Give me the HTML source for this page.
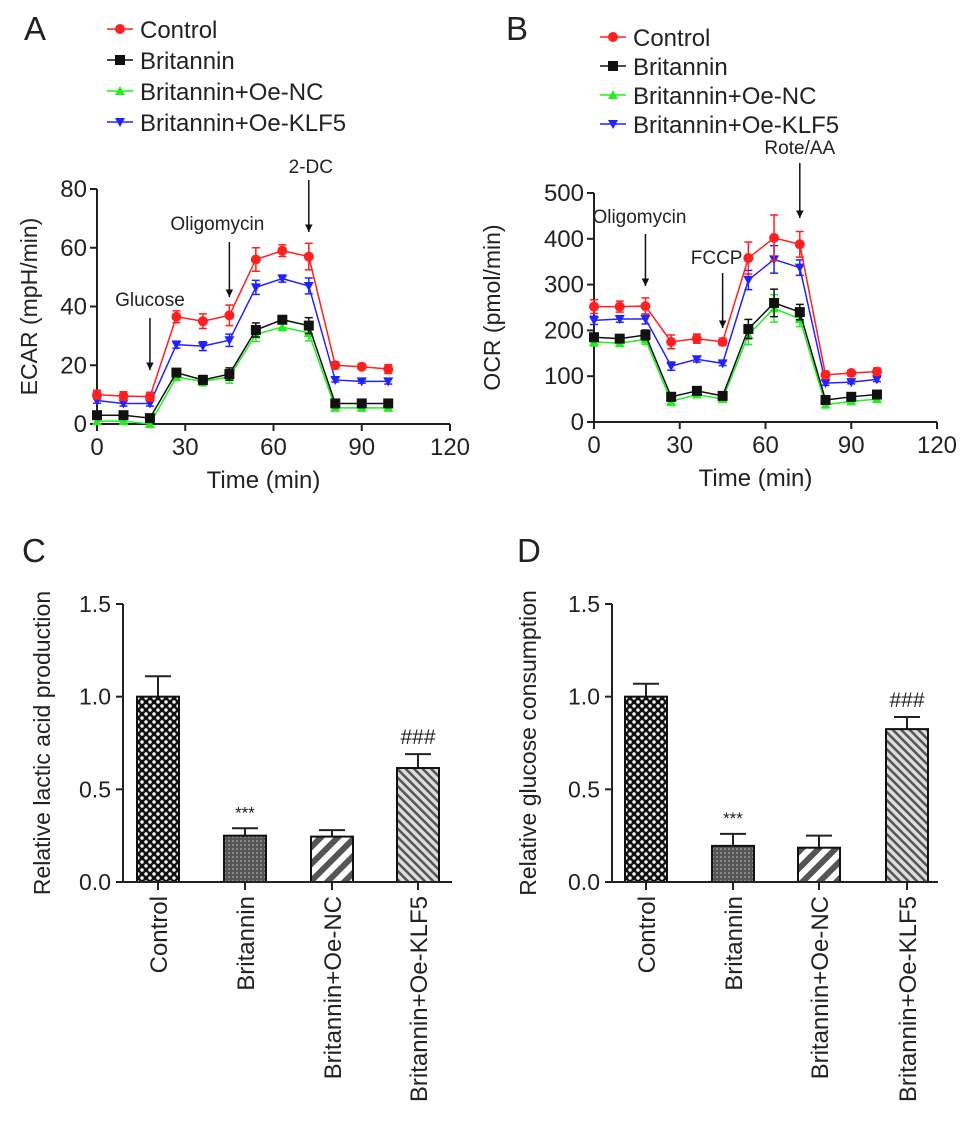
<!DOCTYPE html>
<html><head><meta charset="utf-8"><style>
body{margin:0;background:#fff;}
svg text{font-family:"Liberation Sans",Arial,sans-serif;fill:#222;}
</style></head><body>
<svg id="fig" width="969" height="1125" viewBox="0 0 969 1125" xmlns="http://www.w3.org/2000/svg">
<defs>
<pattern id="pCheck" width="8" height="8" patternUnits="userSpaceOnUse"><rect width="8" height="8" fill="#111"/><circle cx="2" cy="2" r="1.7" fill="#fff"/><circle cx="6" cy="6" r="1.7" fill="#fff"/></pattern>
<pattern id="pDark" width="4" height="4" patternUnits="userSpaceOnUse"><rect width="4" height="4" fill="#555"/><rect width="2" height="2" fill="#888"/></pattern>
<pattern id="pWide" width="12" height="12" patternUnits="userSpaceOnUse" patternTransform="rotate(45)"><rect width="12" height="12" fill="#fff"/><rect width="6" height="12" fill="#555"/></pattern>
<pattern id="pFine" width="6" height="6" patternUnits="userSpaceOnUse" patternTransform="rotate(-45)"><rect width="6" height="6" fill="#ddd"/><rect width="2.5" height="6" fill="#555"/></pattern>
<marker id="arr" viewBox="0 0 10 10" refX="10" refY="5" markerWidth="5" markerHeight="5" orient="auto"><path d="M0,0 L10,5 L0,10z" fill="#111"/></marker>
</defs>
<g id="root"></g>
</svg>
<script>
const times=[0,9,18,27,36,45,54,63,72,81,90,99];
const seriesNames=["Control","Britannin","Britannin+Oe-NC","Britannin+Oe-KLF5"];
const ecarControl=[10,9.5,9.3,36.5,35,37,56,59,57,20,19.5,18.7];
const ecarBrit=[3,3,2,17.5,15,17,32,35.5,33.5,7,7,7];
const ecarNC=[1,1,0,16,14.5,16,30.5,33,31,5.5,5.5,5.5];
const ecarKLF5=[8,7,7,27,26.5,28.5,46.5,49.5,47,15,14.5,14.5];
const ecarErr=[1.5,1.5,1.5,2,2.5,3.5,4,2,4.5,1.2,1,1.5];
const ocrControl=[252,252,253,175,182,175,358,402,388,103,107,110];
const ocrBrit=[185,182,190,55,68,57,203,260,240,48,55,60];
const ocrNC=[175,172,180,45,60,50,190,248,225,38,45,50];
const ocrKLF5=[222,225,225,122,137,128,310,355,337,85,87,93];
const ocrErr=[15,12,18,15,10,8,35,50,28,8,6,8];
const xTicks=[0,30,60,90,120];
const ecarTicks=[0,20,40,60,80];
const ocrTicks=[0,100,200,300,400,500];
const barCats=["Control","Britannin","Britannin+Oe-NC","Britannin+Oe-KLF5"];
const lacticVals=[1.0,0.25,0.245,0.615];
const lacticErr=[0.11,0.04,0.035,0.075];
const glucoseVals=[1.0,0.195,0.185,0.825];
const glucoseErr=[0.07,0.065,0.065,0.065];
const barTicks=[0,0.5,1.0,1.5];
const barSig=["","***","","###"];

const NS="http://www.w3.org/2000/svg";
const root=document.getElementById('root');
function mk(tag,attrs,parent,text){const e=document.createElementNS(NS,tag);for(const k in attrs)e.setAttribute(k,attrs[k]);if(text!==undefined)e.textContent=text;(parent||root).appendChild(e);return e;}
const colors=["#ff2020","#111111","#22ee22","#2222ff"];
const shapes=["circle","square","tri","tri-down"];
function marker(g,shape,x,y,c){
  let e;
  if(shape==="circle")e=mk('circle',{cx:x,cy:y,r:5,fill:c},g);
  else if(shape==="square")e=mk('rect',{x:x-5,y:y-5,width:10,height:10,fill:c},g);
  else if(shape==="tri")e=mk('path',{d:`M${x-5},${y+4}L${x+5},${y+4}L${x},${y-5}z`,fill:c},g);
  else e=mk('path',{d:`M${x-5},${y-4}L${x+5},${y-4}L${x},${y+5}z`,fill:c},g);
  return e;
}
function legend(x0,y0,dy,name){
  const g=mk('g',{},root);
  
  
  seriesNames.forEach((s,i)=>{
    const y=y0+i*dy;
    const it=mk('g',{},g);
    
    
    mk('line',{x1:x0,y1:y,x2:x0+26,y2:y,stroke:colors[i],'stroke-width':1.5},it);
    marker(it,shapes[i],x0+13,y,colors[i]);
    mk('text',{x:x0+33,y:y+9,'font-size':24},it,s);
  });
}
function linePanel(cfg){
  const {x0,x1,y0,y1,ymax,yticks,series,err,name,ytitle,ytx}=cfg;
  const g=mk('g',{},root);
  
  
  const X=t=>x0+(x1-x0)*t/120, Y=v=>y0-(y0-y1)*v/ymax;
  mk('line',{x1:x0,y1:Y(ymax),x2:x0,y2:y0,stroke:'#222','stroke-width':2},g);
  mk('line',{x1:x0-6,y1:y0,x2:x1,y2:y0,stroke:'#222','stroke-width':2},g);
  yticks.forEach(v=>{mk('line',{x1:x0-7,y1:Y(v),x2:x0,y2:Y(v),stroke:'#222','stroke-width':2},g);
    const t=mk('text',{x:x0-10,y:Y(v)+8,'font-size':24,'text-anchor':'end'},g,v);});
  xTicks.forEach(v=>{mk('line',{x1:X(v),y1:y0,x2:X(v),y2:y0+7,stroke:'#222','stroke-width':2},g);
    const t=mk('text',{x:X(v),y:y0+31,'font-size':24,'text-anchor':'middle'},g,v);});
  const xt=mk('text',{x:(x0+x1)/2-10,y:y0+64,'font-size':24,'text-anchor':'middle'},g,'Time (min)');
  
  const yt=mk('text',{x:0,y:0,'font-size':23,'text-anchor':'middle',transform:`translate(${ytx},${(y0+Y(ymax))/2}) rotate(-90)`},g,ytitle);
  
  [2,1,3,0].forEach(si=>{
    const vals=series[si];
    const sg=mk('g',{},g);
    
    
    mk('polyline',{points:vals.map((v,i)=>X(times[i])+','+Y(v)).join(' '),fill:'none',stroke:colors[si],'stroke-width':1.5},sg);
    vals.forEach((v,i)=>{
      const e=err[i]*(si===0?1:0.6);
      mk('line',{x1:X(times[i]),y1:Y(v-e),x2:X(times[i]),y2:Y(v+e),stroke:colors[si],'stroke-width':1.5},sg);
      mk('line',{x1:X(times[i])-4,y1:Y(v+e),x2:X(times[i])+4,y2:Y(v+e),stroke:colors[si],'stroke-width':1.5},sg);
      mk('line',{x1:X(times[i])-4,y1:Y(v-e),x2:X(times[i])+4,y2:Y(v-e),stroke:colors[si],'stroke-width':1.5},sg);
      marker(sg,shapes[si],X(times[i]),Y(v),colors[si]);
    });
  });
  cfg.annots.forEach(a=>{
    const ag=mk('g',{},g);
    
    
    mk('line',{x1:X(a.x),y1:a.ly1,x2:X(a.x),y2:a.ly2,stroke:'#111','stroke-width':1.5,'marker-end':'url(#arr)'},ag);
    mk('text',{x:X(a.x)+a.dx,y:a.ty,'font-size':19,'text-anchor':'middle'},ag,a.t);
  });
}
function barPanel(cfg){
  const {x0,x1,y0,y1,vals,errs,name,ytitle,ytx,centers}=cfg;
  const g=mk('g',{},root);
  
  
  const Y=v=>y0-(y0-y1)*v/1.5;
  const fills=["url(#pCheck)","url(#pDark)","url(#pWide)","url(#pFine)"];
  vals.forEach((v,i)=>{
    const cx=centers[i];
    const bg=mk('g',{},g);
    
    
    mk('line',{x1:cx,y1:Y(v),x2:cx,y2:Y(v+errs[i]),stroke:'#222','stroke-width':2},bg);
    mk('line',{x1:cx-13,y1:Y(v+errs[i]),x2:cx+13,y2:Y(v+errs[i]),stroke:'#222','stroke-width':2},bg);
    mk('rect',{x:cx-21,y:Y(v),width:42,height:y0-Y(v),fill:fills[i],stroke:'#111','stroke-width':2},bg);
    if(barSig[i])mk('text',{x:cx,y:Y(v+errs[i])-10,'font-size':barSig[i]==='***'?17:21,'text-anchor':'middle',fill:'#333'},bg,barSig[i]);
    mk('line',{x1:cx,y1:y0,x2:cx,y2:y0+8,stroke:'#222','stroke-width':2},g);
    const cl=mk('text',{x:0,y:0,'font-size':24,'text-anchor':'end',transform:`translate(${cx+9},${y0+14}) rotate(-90)`},g,barCats[i]);
    
  });
  mk('line',{x1:x0,y1:Y(1.5),x2:x0,y2:y0,stroke:'#222','stroke-width':2},g);
  mk('line',{x1:x0-6,y1:y0,x2:x1,y2:y0,stroke:'#222','stroke-width':2},g);
  barTicks.forEach(v=>{mk('line',{x1:x0-7,y1:Y(v),x2:x0,y2:Y(v),stroke:'#222','stroke-width':2},g);
    const t=mk('text',{x:x0-12,y:Y(v)+8,'font-size':23,'text-anchor':'end'},g,v.toFixed(1));});
  const yt=mk('text',{x:0,y:0,'font-size':23,'text-anchor':'middle',transform:`translate(${ytx},${(y0+Y(1.5))/2}) rotate(-90)`},g,ytitle);
  
}
function label(t,x,y){const e=mk('text',{x:x,y:y,'font-size':33},root,t);}

label('A',24,40);label('B',506,40);label('C',22,562);label('D',517,562);
legend(107,29,31,'legend-a');
legend(600,37,29,'legend-b');
linePanel({x0:97,x1:450,y0:424,y1:189,ymax:80,yticks:ecarTicks,series:[ecarControl,ecarBrit,ecarNC,ecarKLF5],err:ecarErr,name:'ecar-chart',ytitle:'ECAR (mpH/min)',ytx:37,
  annots:[{x:18,t:'Glucose',ly1:318,ly2:370,ty:306,dx:0},{x:45,t:'Oligomycin',ly1:242,ly2:297,ty:230,dx:-12},{x:72,t:'2-DC',ly1:180,ly2:232,ty:173,dx:2}]});
linePanel({x0:594,x1:937,y0:422,y1:193,ymax:500,yticks:ocrTicks,series:[ocrControl,ocrBrit,ocrNC,ocrKLF5],err:ocrErr,name:'ocr-chart',ytitle:'OCR (pmol/min)',ytx:500,
  annots:[{x:18,t:'Oligomycin',ly1:234,ly2:286,ty:223,dx:-6},{x:45,t:'FCCP',ly1:273,ly2:328,ty:264,dx:-6},{x:72,t:'Rote/AA',ly1:163,ly2:218,ty:154,dx:0}]});
barPanel({x0:123,x1:452,y0:882,y1:604,vals:lacticVals,errs:lacticErr,name:'lactic-acid-chart',ytitle:'Relative lactic acid production',ytx:50,centers:[158,245,332,418]});
barPanel({x0:612,x1:938,y0:882,y1:604,vals:glucoseVals,errs:glucoseErr,name:'glucose-consumption-chart',ytitle:'Relative glucose consumption',ytx:536,centers:[646,733,819,907]});
</script>
</body></html>
